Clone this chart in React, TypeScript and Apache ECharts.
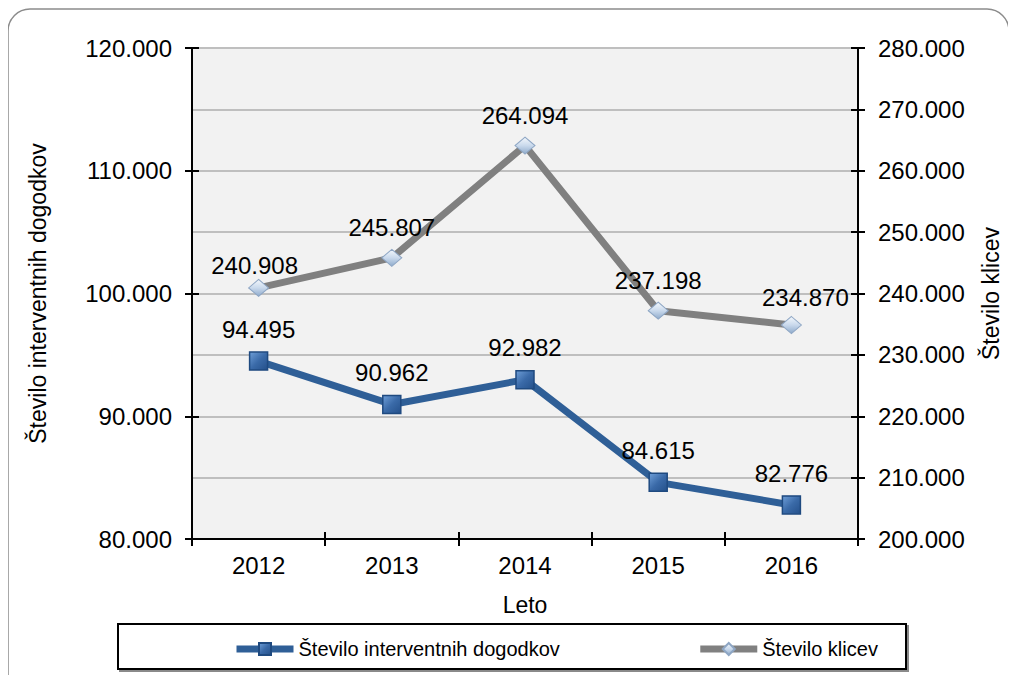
import React, { useEffect, useRef } from "react";
import * as echarts from "echarts";

const years = ["2012", "2013", "2014", "2015", "2016"];
const interventions = [94495, 90962, 92982, 84615, 82776];
const calls = [240908, 245807, 264094, 237198, 234870];
const leftAxis = { min: 80000, max: 120000, interval: 10000 };
const rightAxis = { min: 200000, max: 280000, interval: 10000 };
const seriesNames = ["Število interventnih dogodkov", "Število klicev"];
const leftTitle = "Število interventnih dogodkov";
const rightTitle = "Število klicev";
const xTitle = "Leto";

const FONT = "'Liberation Sans', Arial, sans-serif";
const fmt = (v: number) => {
  const s = Math.round(v).toString();
  return s.replace(/\B(?=(\d{3})+(?!\d))/g, ".");
};

export default function App() {
  const ref = useRef<HTMLDivElement>(null);
  useEffect(() => {
    if (!ref.current) return;
    const chart = echarts.init(ref.current, undefined, { renderer: "svg" });
    const grid = { left: 192, right: 158, top: 48, bottom: 144 };
    const axisLine = { show: true, lineStyle: { color: "#000", width: 2 } };
    const labelStyle = { color: "#000", fontSize: 24, fontFamily: FONT };
    const titleStyle = { color: "#000", fontSize: 23, fontFamily: FONT };
    const blueMarker = new echarts.graphic.LinearGradient(0, 0, 1, 1, [
      { offset: 0, color: "#6f9fd8" },
      { offset: 0.5, color: "#3a6aa8" },
      { offset: 1, color: "#24508a" },
    ]);
    const grayMarker = new echarts.graphic.LinearGradient(0, 0, 0, 1, [
      { offset: 0, color: "#f4f8fc" },
      { offset: 0.5, color: "#c9d9ec" },
      { offset: 1, color: "#8eaacb" },
    ]);
    const grayOffsets: Record<number, number[]> = { 0: [-4, 8], 4: [14, 2] };
    chart.setOption({
      animation: false,
      backgroundColor: "#fff",
      textStyle: { fontFamily: FONT },
      grid: { ...grid, show: true, backgroundColor: "#f2f2f2", borderWidth: 0 },
      graphic: [
        {
          type: "rect",
          shape: { x: 8, y: 9, width: 1001, height: 700, r: 22 },
          style: { fill: "none", stroke: "#8c8c8c", lineWidth: 1.5 },
          z: -1,
        },
        {
          type: "rect",
          shape: { x: 120, y: 626, width: 788, height: 45 },
          style: { fill: "none", stroke: "#8a8a8a", lineWidth: 2 },
        },
        {
          type: "rect",
          shape: { x: 118, y: 624, width: 788, height: 45 },
          style: { fill: "#fff", stroke: "#000", lineWidth: 2 },
        },
      ],
      legend: {
        left: 228,
        top: 634,
        itemGap: 137,
        itemWidth: 57,
        itemHeight: 15,
        lineStyle: { width: 7 },
        textStyle: { color: "#000", fontSize: 20, fontFamily: FONT },
        data: seriesNames,
        z: 10,
      },
      xAxis: [
        {
          type: "category",
          data: years,
          boundaryGap: true,
          position: "bottom",
          name: xTitle,
          nameLocation: "middle",
          nameGap: 54,
          nameTextStyle: titleStyle,
          axisLine,
          axisTick: { show: true, length: 7, lineStyle: { color: "#000", width: 2 } },
          axisLabel: { ...labelStyle, margin: 14 },
          splitLine: { show: false },
        },
        {
          type: "category",
          data: years,
          boundaryGap: true,
          position: "bottom",
          offset: 0,
          axisLine: { show: false },
          axisTick: { show: true, inside: true, length: 7, lineStyle: { color: "#000", width: 2 } },
          axisLabel: { show: false },
          splitLine: { show: false },
        },
      ],
      yAxis: [
        {
          type: "value",
          position: "left",
          ...leftAxis,
          name: leftTitle,
          nameLocation: "middle",
          nameGap: 143,
          nameTextStyle: titleStyle,
          axisLine,
          axisTick: { show: true, length: 7, lineStyle: { color: "#000", width: 2 } },
          axisLabel: { ...labelStyle, margin: 20, formatter: fmt },
          splitLine: { show: false },
        },
        {
          type: "value",
          position: "right",
          ...rightAxis,
          name: rightTitle,
          nameLocation: "middle",
          nameGap: 121,
          nameRotate: 90,
          nameTextStyle: titleStyle,
          axisLine,
          axisTick: { show: true, length: 7, lineStyle: { color: "#000", width: 2 } },
          axisLabel: { ...labelStyle, margin: 20, formatter: fmt },
          splitLine: { show: true, lineStyle: { color: "#bfbfbf", width: 2 } },
        },
        {
          type: "value",
          position: "left",
          offset: 0,
          ...leftAxis,
          axisLine: { show: false },
          axisTick: { show: true, inside: true, length: 7, lineStyle: { color: "#000", width: 2 } },
          axisLabel: { show: false },
          splitLine: { show: false },
        },
        {
          type: "value",
          position: "right",
          offset: 0,
          ...rightAxis,
          axisLine: { show: false },
          axisTick: { show: true, inside: true, length: 7, lineStyle: { color: "#000", width: 2 } },
          axisLabel: { show: false },
          splitLine: { show: false },
        },
      ],
      series: [
        {
          name: seriesNames[0],
          type: "line",
          xAxisIndex: 0,
          yAxisIndex: 0,
          data: interventions,
          symbol: "rect",
          symbolSize: 18,
          z: 5,
          lineStyle: { color: "#2f5f97", width: 7 },
          itemStyle: { color: blueMarker, borderColor: "#1f4a80", borderWidth: 1.5 },
          label: {
            show: true,
            position: "top",
            distance: 10,
            color: "#000",
            fontSize: 24,
            fontFamily: FONT,
            formatter: (p: any) => fmt(p.value),
          },
        },
        {
          name: seriesNames[1],
          type: "line",
          xAxisIndex: 0,
          yAxisIndex: 1,
          data: calls.map((v, i) => ({
            value: v,
            label: grayOffsets[i] ? { offset: grayOffsets[i] } : undefined,
          })),
          symbol: "diamond",
          symbolSize: [20, 17],
          z: 4,
          lineStyle: { color: "#808080", width: 7 },
          itemStyle: { color: grayMarker, borderColor: "#8ea6c4", borderWidth: 1 },
          label: {
            show: true,
            position: "top",
            distance: 9,
            color: "#000",
            fontSize: 24,
            fontFamily: FONT,
            formatter: (p: any) => fmt(p.value),
          },
        },
      ],
    });
    return () => chart.dispose();
  }, []);
  return <div ref={ref} style={{ width: 1016, height: 683, margin: -8 }} />;
}
